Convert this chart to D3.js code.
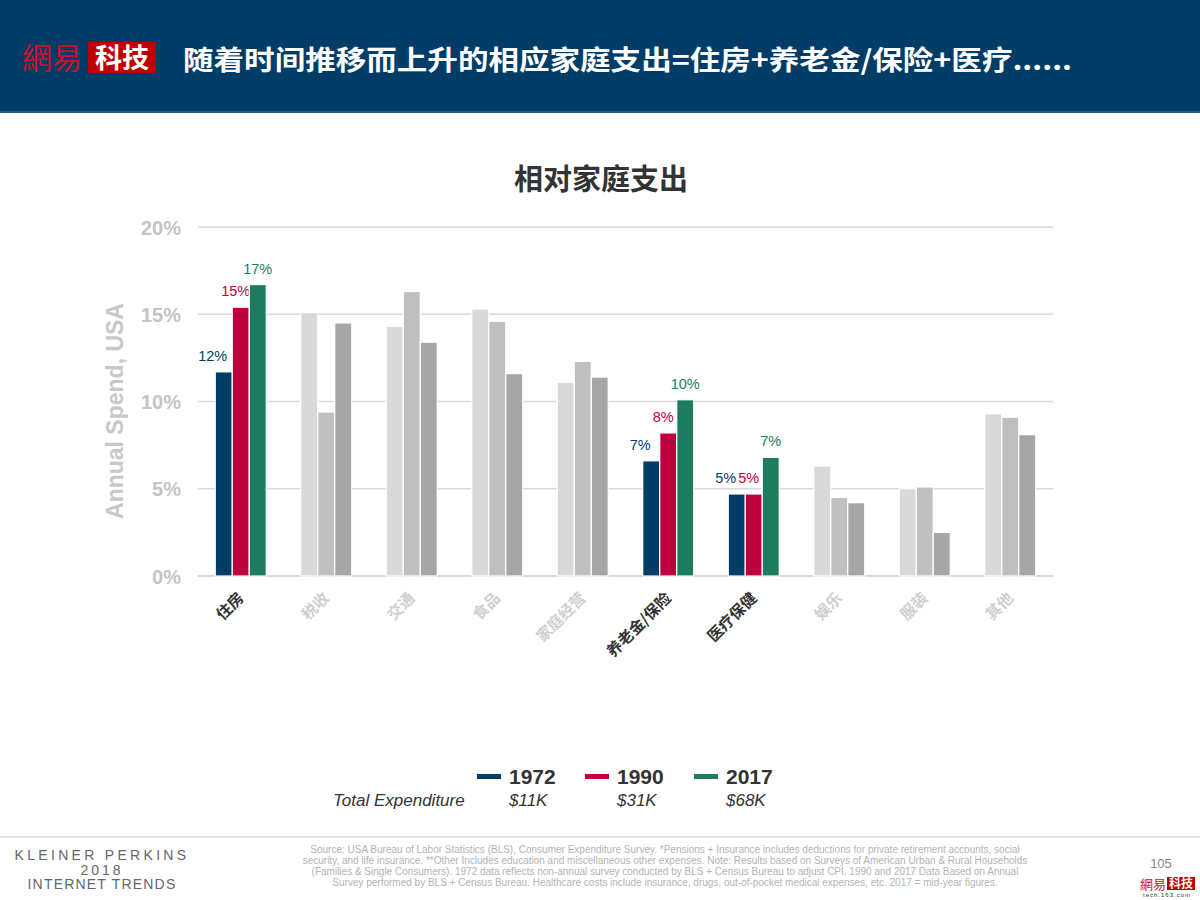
<!DOCTYPE html>
<html><head><meta charset="utf-8">
<script src="https://cdn.jsdelivr.net/npm/d3@7/dist/d3.min.js"></script>
<style>
body{margin:0;background:#fff;}
svg{display:block;font-family:Arial,"Liberation Sans","Noto Sans CJK SC",sans-serif;}
</style></head>
<body>
<svg id="c" width="1200" height="900"></svg>
<script>
const categories = ["住房","税收","交通","食品","家庭经营","养老金/保险","医疗保健","娱乐","服装","其他"];
const highlighted = ["住房","养老金/保险","医疗保健"];
const years = ["1972","1990","2017"];
const totals = ["$11K","$31K","$68K"];
const v1972 = [11.7, 15.1, 14.3, 15.3, 11.1, 6.6, 4.7, 6.3, 5.0, 9.3];
const v1990 = [15.4, 9.4, 16.3, 14.6, 12.3, 8.2, 4.7, 4.5, 5.1, 9.1];
const v2017 = [16.7, 14.5, 13.4, 11.6, 11.4, 10.1, 6.8, 4.2, 2.5, 8.1];
const yTicks = [0, 5, 10, 15, 20];
const seriesColors = ["#013d67", "#bf003f", "#1d7b5f"];
const greyColors = ["#d9d9d9", "#bfbfbf", "#a6a6a6"];
const series = [v1972, v1990, v2017];

const svg = d3.select("#c");

// Header
svg.append("rect").attr("x",0).attr("y",0).attr("width",1200).attr("height",112).attr("fill","#013d67");
svg.append("rect").attr("x",0).attr("y",111).attr("width",1200).attr("height",2).attr("fill","#2a5a80");
svg.append("text").attr("x",22).attr("y",69).attr("fill","#c8102e")
  .style("font-family","'Noto Sans CJK TC','Noto Sans CJK SC'").style("font-size","30px").text("網易");
svg.append("rect").attr("x",88).attr("y",42).attr("width",68).attr("height",31).attr("fill","#c00000");
svg.append("text").attr("x",122).attr("y",68).attr("fill","#fff").attr("text-anchor","middle")
  .style("font-family","'Noto Sans CJK SC'").style("font-weight","bold").style("font-size","27px").text("科技");
svg.append("text").attr("x",183).attr("y",70).attr("fill","#fff")
  .style("font-family","'Noto Sans CJK SC'").style("font-weight","bold").style("font-size","27px")
  .attr("textLength",889).attr("lengthAdjust","spacingAndGlyphs")
  .text("随着时间推移而上升的相应家庭支出=住房+养老金/保险+医疗......");

// Chart title
svg.append("text").attr("x",601).attr("y",190).attr("text-anchor","middle").attr("fill","#333")
  .style("font-family","'Noto Sans CJK SC'").style("font-weight","bold").style("font-size","29px").text("相对家庭支出");

const x0 = d3.scaleBand().domain(categories).range([198,1053]);
const x1 = d3.scaleBand().domain(years).range([0,51]);
const y = d3.scaleLinear().domain([0,20]).range([576,227]);

// gridlines
const g = svg.append("g");
g.selectAll("line.grid").data(yTicks).join("line")
  .attr("x1",198).attr("x2",1053).attr("y1",d=>y(d)).attr("y2",d=>y(d))
  .attr("stroke","#d9d9d9").attr("stroke-width",d=>d===0?2:1.5);

// y axis labels
const yAxis = d3.axisLeft(y).tickValues(yTicks).tickFormat(d=>d+"%").tickSize(0);
const ya = svg.append("g").attr("transform","translate(182,0)").call(yAxis);
ya.select(".domain").remove();
ya.selectAll("text").attr("fill","#c4c4c4").style("font-family","Arial,'Liberation Sans'")
  .style("font-weight","bold").style("font-size","20px").attr("dy","0.36em").attr("x",-1);

svg.append("text").attr("transform","translate(123,411) rotate(-90)").attr("text-anchor","middle")
  .attr("fill","#c8c8c8").style("font-weight","bold").style("font-size","23px").text("Annual Spend, USA");

// bars
const groups = svg.append("g").selectAll("g").data(categories).join("g")
  .attr("transform",d=>`translate(${x0(d)+x0.bandwidth()/2-25.5},0)`);
groups.each(function(cat,ci){
  const hl = highlighted.includes(cat);
  const grp = d3.select(this);
  years.forEach((yr,si)=>{
    const v = series[si][ci];
    grp.append("rect").attr("x",x1(yr)).attr("width",x1.bandwidth())
      .attr("y",y(v)).attr("height",y(0)-y(v))
      .attr("fill",hl?seriesColors[si]:greyColors[si])
      .attr("stroke","#fff").attr("stroke-width",1.2);
    if(hl){
      const dx = [-11,-5,0][si];
      grp.append("text").attr("x",x1(yr)+x1.bandwidth()/2+dx).attr("y",y(v)-11)
        .attr("text-anchor","middle").attr("fill",seriesColors[si]).style("font-size","14.5px")
        .text(Math.round(v)+"%");
    }
  });
});

// x labels
const xa = svg.append("g").attr("transform","translate(0,0)")
  .call(d3.axisBottom(x0).tickSize(0));
xa.select(".domain").remove();
xa.selectAll(".tick").attr("transform",null);
xa.selectAll(".tick text")
  .attr("fill",d=>highlighted.includes(d)?"#333":"#cfcfcf")
  .style("font-family","'Noto Sans CJK SC'").style("font-weight","bold").style("font-size","15.5px")
  .attr("text-anchor","end").attr("x",0).attr("y",0).attr("dy","0").attr("dx","0")
  .attr("transform",d=>`translate(${x0(d)+x0.bandwidth()/2+4},599) rotate(-45)`);

// legend
const legX = [477,585,694];
years.forEach((yr,i)=>{
  svg.append("rect").attr("x",legX[i]).attr("y",774).attr("width",24).attr("height",5).attr("fill",seriesColors[i]);
  svg.append("text").attr("x",legX[i]+32).attr("y",784).attr("fill","#333")
    .style("font-weight","bold").style("font-size","21px").text(yr);
  svg.append("text").attr("x",legX[i]+32).attr("y",806).attr("fill","#333")
    .style("font-style","italic").style("font-size","17px").text(totals[i]);
});
svg.append("text").attr("x",333).attr("y",806).attr("fill","#333")
  .style("font-style","italic").style("font-size","17px").text("Total Expenditure");

// footer
svg.append("line").attr("x1",0).attr("x2",1200).attr("y1",837).attr("y2",837).attr("stroke","#e6e6e6").attr("stroke-width",2);
const kp = svg.append("g").attr("fill","#666").style("font-size","14px").style("font-family","'Liberation Sans',Arial");
kp.append("text").attr("x",102).attr("y",860).attr("text-anchor","middle").style("letter-spacing","3.3px").text("KLEINER PERKINS");
kp.append("text").attr("x",102).attr("y",875).attr("text-anchor","middle").style("letter-spacing","3px").text("2018");
kp.append("text").attr("x",102).attr("y",889).attr("text-anchor","middle").style("letter-spacing","1.2px").text("INTERNET TRENDS");
const src = [
 "Source: USA Bureau of Labor Statistics (BLS), Consumer Expenditure Survey. *Pensions + Insurance includes deductions for private retirement accounts, social",
 "security, and life insurance. **Other Includes education and miscellaneous other expenses. Note: Results based on Surveys of American Urban & Rural Households",
 "(Families & Single Consumers).  1972 data reflects non-annual survey conducted by BLS + Census Bureau to adjust CPI.  1990 and 2017 Data Based on Annual",
 "Survey performed by BLS + Census Bureau. Healthcare costs include insurance, drugs, out-of-pocket medical expenses, etc. 2017 = mid-year figures."
];
svg.append("g").selectAll("text").data(src).join("text")
  .attr("x",665).attr("y",(d,i)=>853+i*11).attr("text-anchor","middle").attr("fill","#b3b3b3")
  .style("font-size","10px").style("font-family","'Liberation Sans',Arial").text(d=>d);
svg.append("text").attr("x",1161).attr("y",868).attr("text-anchor","middle").attr("fill","#888").style("font-size","13px").text("105");
svg.append("text").attr("x",1140).attr("y",889).attr("fill","#c8102e")
  .style("font-family","'Noto Sans CJK TC'").style("font-size","13px").text("網易");
svg.append("rect").attr("x",1167).attr("y",877).attr("width",28).attr("height",13).attr("fill","#c00000");
svg.append("text").attr("x",1181).attr("y",888).attr("text-anchor","middle").attr("fill","#fff")
  .style("font-family","'Noto Sans CJK SC'").style("font-weight","bold").style("font-size","12px").text("科技");
svg.append("text").attr("x",1167).attr("y",897).attr("text-anchor","middle").attr("fill","#333")
  .style("font-size","6px").style("letter-spacing","1px").text("tech.163.com");
</script>
</body></html>
